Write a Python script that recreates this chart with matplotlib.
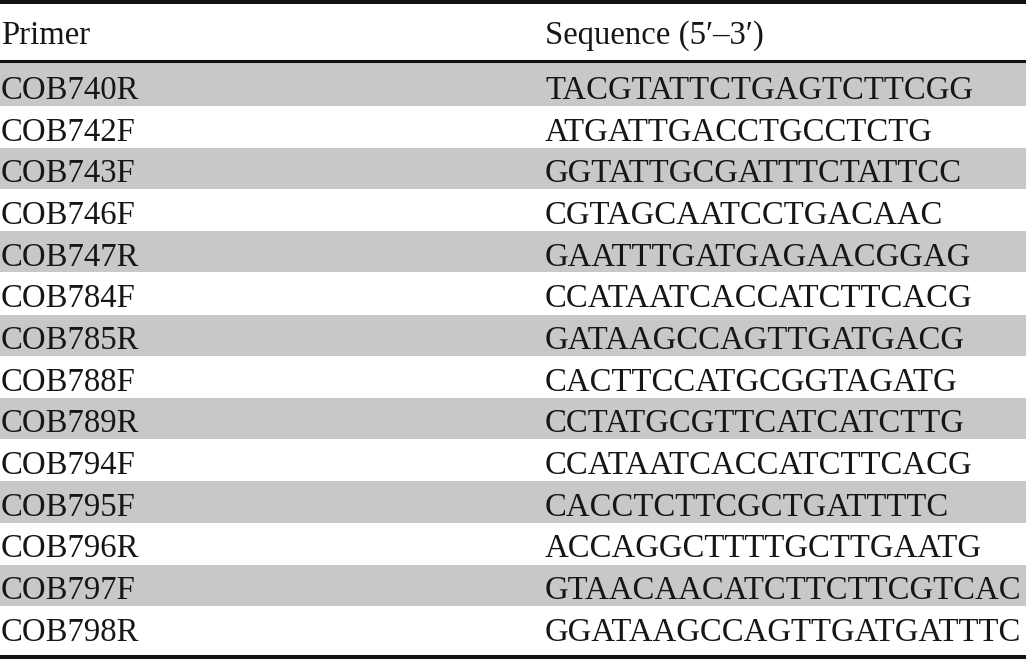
import matplotlib
matplotlib.use("Agg")
import matplotlib.pyplot as plt

headers = ["Primer", "Sequence (5\u2032\u20133\u2032)"]
primers = ["COB740R", "COB742F", "COB743F", "COB746F", "COB747R", "COB784F",
           "COB785R", "COB788F", "COB789R", "COB794F", "COB795F", "COB796R",
           "COB797F", "COB798R"]
sequences = ["TACGTATTCTGAGTCTTCGG", "ATGATTGACCTGCCTCTG", "GGTATTGCGATTTCTATTCC",
             "CGTAGCAATCCTGACAAC", "GAATTTGATGAGAACGGAG", "CCATAATCACCATCTTCACG",
             "GATAAGCCAGTTGATGACG", "CACTTCCATGCGGTAGATG", "CCTATGCGTTCATCATCTTG",
             "CCATAATCACCATCTTCACG", "CACCTCTTCGCTGATTTTC", "ACCAGGCTTTTGCTTGAATG",
             "GTAACAACATCTTCTTCGTCAC", "GGATAAGCCAGTTGATGATTTC"]

W, H = 1026, 660
fig = plt.figure(figsize=(W / 100, H / 100), dpi=100)
ax = fig.add_axes([0, 0, 1, 1])
ax.set_xlim(0, W)
ax.set_ylim(H, 0)
ax.axis("off")

font = dict(family="Liberation Serif", fontsize=23.6, color="#161616")
col_x = [1, 545]
row_top0 = 64.5
row_h = 41.67

ax.text(col_x[0], 44, headers[0], va="baseline", ha="left", **font)
ax.text(col_x[1], 44, headers[1], va="baseline", ha="left", **font)

for i, (p, s) in enumerate(zip(primers, sequences)):
    top = row_top0 + i * row_h
    if i % 2 == 0:
        start = 61 if i == 0 else top
        ax.axhspan(start, top + 41.3, color="#c8c8c8", lw=0, zorder=0)
    yb = top + 34.5
    ax.text(col_x[0], yb, p, va="baseline", ha="left", **font)
    ax.text(col_x[1], yb, s, va="baseline", ha="left", **font)

for y, lw in [(2, 2.9), (60.5, 2.2), (657, 2.9)]:
    ax.axhline(y, color="#111111", lw=lw, zorder=3)

fig.savefig("out.png", dpi=100)
